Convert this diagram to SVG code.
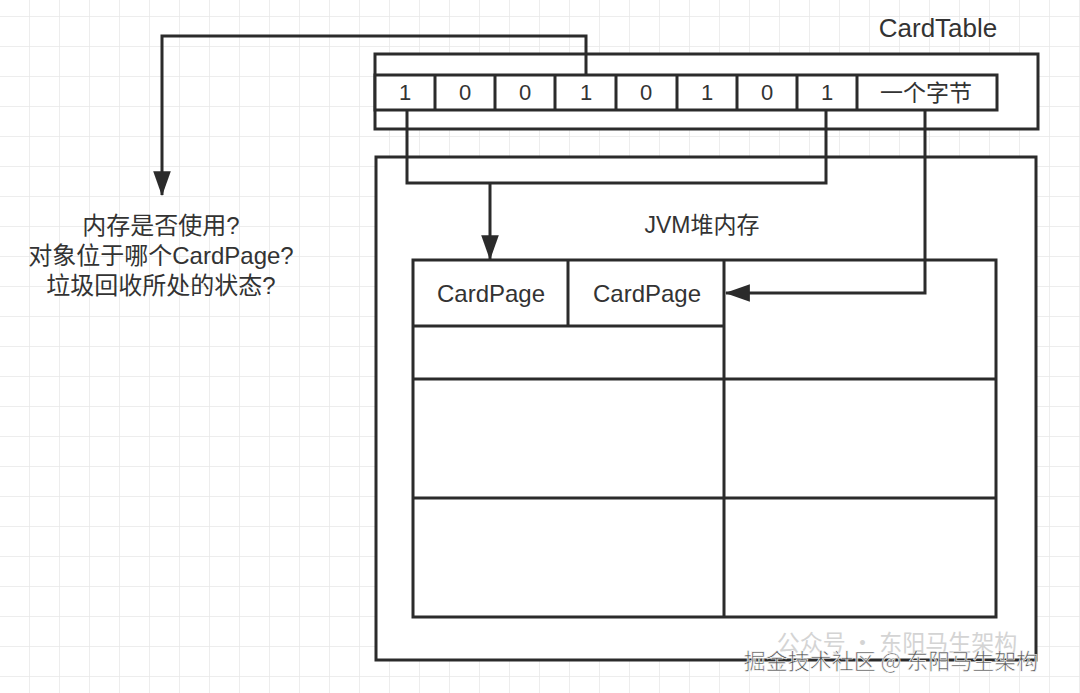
<svg xmlns="http://www.w3.org/2000/svg" width="1080" height="693" viewBox="0 0 1080 693">
<defs>
<pattern id="grid" x="0" y="17" width="30" height="30" patternUnits="userSpaceOnUse">
<path d="M30 0V30M0 30H30" fill="none" stroke="#e8e8e8" stroke-width="1.5"/>
</pattern>
<marker id="arr" viewBox="0 0 24 17" refX="23" refY="8.5" markerWidth="8.3" markerHeight="5.9" markerUnits="strokeWidth" orient="auto">
<path d="M0 0L24 8.5L0 17Z" fill="#2b2b2b"/>
</marker>
<style>
.box{fill:#fff;stroke:#2b2b2b;stroke-width:3}
.ln{fill:none;stroke:#2b2b2b;stroke-width:3}
.t{font-family:"Liberation Sans","Noto Sans CJK SC",sans-serif;fill:#333;text-anchor:middle}
.c{font-size:22px}
.q{font-size:24px}
.w{font-family:"Noto Sans CJK SC",sans-serif;text-anchor:middle}
</style>
</defs>
<rect width="1080" height="693" fill="#fff"/>
<rect width="1080" height="693" fill="url(#grid)"/>

<g id="cardtable">
<rect class="box" x="375" y="54" width="663" height="75"/>
<text class="t" x="938" y="37" font-size="26">CardTable</text>
</g>
<g id="cells">
<rect class="box" x="375" y="75" width="622" height="35"/>
<path class="ln" d="M435 75V110M495 75V110M555 75V110M616 75V110M677 75V110M737 75V110M797 75V110M857 75V110"/>
<text class="t c" x="405" y="100">1</text>
<text class="t c" x="465" y="100">0</text>
<text class="t c" x="525" y="100">0</text>
<text class="t c" x="586" y="100">1</text>
<text class="t c" x="646" y="100">0</text>
<text class="t c" x="707" y="100">1</text>
<text class="t c" x="767" y="100">0</text>
<text class="t c" x="827" y="100">1</text>
<text class="t" x="926" y="101" font-size="23">一个字节</text>
</g>

<g id="jvmheap">
<rect class="box" x="376" y="157" width="660" height="503"/>
<text class="t" x="702" y="233" font-size="23">JVM堆内存</text>
</g>
<g id="heapgrid">
<rect class="box" x="413" y="260" width="583" height="357"/>
<path class="ln" d="M724 260V617M413 379H996M413 498H996M413 326H724M568 260V326"/>
<text class="t" x="491" y="302" font-size="24">CardPage</text>
<text class="t" x="647" y="302" font-size="24">CardPage</text>
</g>

<g id="question">
<text class="t q" x="161" y="234">内存是否使用?</text>
<text class="t q" x="161" y="264">对象位于哪个CardPage?</text>
<text class="t q" x="161" y="294">垃圾回收所处的状态?</text>
</g>

<g id="connectors">
<path class="ln" d="M586 75V36H162V195" marker-end="url(#arr)"/>
<path class="ln" d="M407 110V183H826V110"/>
<path class="ln" d="M490 183V259" marker-end="url(#arr)"/>
<path class="ln" d="M925 110V293H726" marker-end="url(#arr)"/>
</g>

<g id="watermark">
<text class="w" x="897" y="651" font-size="23" fill="#d4d4d4">公众号 · 东阳马生架构</text>
<text class="w" x="891" y="669" font-size="22" fill="#555" stroke="#fff" stroke-width="0.6">掘金技术社区 @ 东阳马生架构</text>
</g>
</svg>
